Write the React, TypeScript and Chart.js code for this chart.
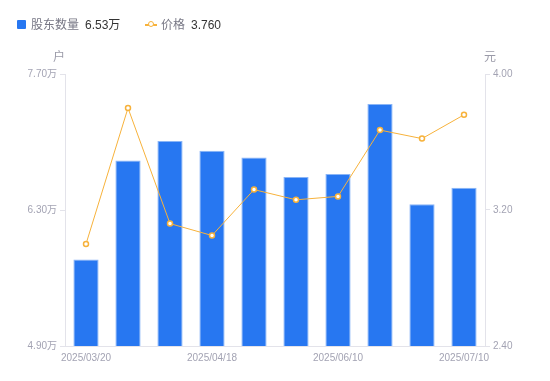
import React, { useEffect, useRef } from "react";
import { Chart, registerables } from "chart.js";

Chart.register(...registerables);

const categories = [
  "2025/03/20", "2025/03/31", "2025/04/10", "2025/04/18", "2025/04/30",
  "2025/05/20", "2025/06/10", "2025/06/20", "2025/06/30", "2025/07/10",
];
const holders = [5.79, 6.81, 7.01, 6.91, 6.84, 6.64, 6.67, 7.39, 6.36, 6.53];
const prices = [3.0, 3.8, 3.12, 3.05, 3.32, 3.26, 3.28, 3.67, 3.62, 3.76];
const leftTicks = [4.9, 6.3, 7.7];
const rightTicks = [2.4, 3.2, 4.0];
const shownLabelIdx = [0, 3, 6, 9];

const FONT = "'Liberation Sans', 'Noto Sans CJK SC', sans-serif";
const TICK_COLOR = "#a3a3b3";
const AXIS_COLOR = "#e3e3ea";
const BAR_COLOR = "#2777f1";
const LINE_COLOR = "#f7b23b";

export default function App() {
  const ref = useRef<HTMLCanvasElement | null>(null);
  useEffect(() => {
    if (!ref.current) return;
    const chart = new Chart(ref.current, {
      data: {
        labels: categories,
        datasets: [
          {
            type: "line",
            label: "价格",
            data: prices,
            yAxisID: "y1",
            borderColor: LINE_COLOR,
            borderWidth: 1,
            pointRadius: 2.5,
            pointBorderWidth: 1.5,
            pointBackgroundColor: "#ffffff",
            pointBorderColor: LINE_COLOR,
            tension: 0,
            order: 0,
          } as any,
          {
            type: "bar",
            label: "股东数量",
            data: holders,
            yAxisID: "y",
            backgroundColor: BAR_COLOR,
            borderColor: "#8ab5f6",
            borderWidth: 1,
            barPercentage: 0.6,
            categoryPercentage: 1,
            order: 1,
          } as any,
        ],
      },
      options: {
        animation: false,
        responsive: false,
        maintainAspectRatio: false,
        layout: { padding: { top: 74, left: 0, right: 0, bottom: 0 } },
        plugins: { legend: { display: false }, tooltip: { enabled: false } },
        scales: {
          x: {
            type: "category",
            grid: { display: false, drawTicks: false, tickLength: 0 },
            border: { display: true, color: AXIS_COLOR },
            ticks: {
              autoSkip: false,
              maxRotation: 0,
              padding: 6,
              color: TICK_COLOR,
              font: { family: FONT, size: 10 },
              callback: (v: any, i: number) =>
                shownLabelIdx.includes(i) ? categories[i] : null,
            },
            afterFit: (s: any) => {
              s.height = 35;
            },
          },
          y: {
            type: "linear",
            position: "left",
            min: 4.9,
            max: 7.7,
            afterBuildTicks: (s: any) => {
              s.ticks = leftTicks.map((v) => ({ value: v }));
            },
            grid: {
              drawOnChartArea: false,
              drawTicks: true,
              tickLength: 5,
              color: AXIS_COLOR,
            },
            border: { display: true, color: AXIS_COLOR },
            ticks: {
              padding: 3,
              color: TICK_COLOR,
              font: { family: FONT, size: 10 },
              callback: (v: any) => Number(v).toFixed(2) + "万",
            },
            afterFit: (s: any) => {
              s.width = 65;
            },
          },
          y1: {
            type: "linear",
            position: "right",
            min: 2.4,
            max: 4.0,
            afterBuildTicks: (s: any) => {
              s.ticks = rightTicks.map((v) => ({ value: v }));
            },
            grid: {
              drawOnChartArea: false,
              drawTicks: true,
              tickLength: 5,
              color: AXIS_COLOR,
            },
            border: { display: true, color: AXIS_COLOR },
            ticks: {
              padding: 3,
              color: TICK_COLOR,
              font: { family: FONT, size: 10 },
              callback: (v: any) => Number(v).toFixed(2),
            },
            afterFit: (s: any) => {
              s.width = 65;
            },
          },
        },
      } as any,
    });
    return () => chart.destroy();
  }, []);

  const legendText: React.CSSProperties = {
    position: "absolute",
    top: 17,
    fontFamily: FONT,
    fontSize: 12,
    lineHeight: "16px",
    whiteSpace: "nowrap",
  };
  const axisTitle: React.CSSProperties = {
    position: "absolute",
    top: 49,
    fontFamily: FONT,
    fontSize: 12,
    lineHeight: "16px",
    color: "#9a9aa8",
  };

  return (
    <div
      style={{
        position: "fixed",
        left: 0,
        top: 0,
        width: 550,
        height: 381,
        background: "#ffffff",
      }}
    >
      <canvas ref={ref} width={550} height={381} style={{ display: "block" }} />
      <div
        style={{
          position: "absolute",
          left: 17,
          top: 20,
          width: 9,
          height: 9,
          borderRadius: 1,
          background: BAR_COLOR,
        }}
      />
      <span style={{ ...legendText, left: 31, color: "#777785" }}>股东数量</span>
      <span style={{ ...legendText, left: 85, color: "#333333" }}>6.53万</span>
      <div
        style={{
          position: "absolute",
          left: 145,
          top: 24,
          width: 12,
          height: 1.5,
          background: LINE_COLOR,
        }}
      />
      <div
        style={{
          position: "absolute",
          left: 148,
          top: 21,
          width: 4,
          height: 4,
          borderRadius: "50%",
          border: `1.5px solid ${LINE_COLOR}`,
          background: "#ffffff",
        }}
      />
      <span style={{ ...legendText, left: 161, color: "#777785" }}>价格</span>
      <span style={{ ...legendText, left: 191, color: "#333333" }}>3.760</span>
      <span style={{ ...axisTitle, left: 53 }}>户</span>
      <span style={{ ...axisTitle, left: 484 }}>元</span>
    </div>
  );
}
